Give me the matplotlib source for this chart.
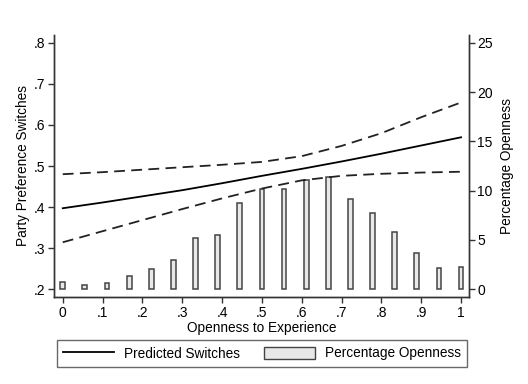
import matplotlib
matplotlib.use("Agg")
import matplotlib.pyplot as plt
import numpy as np
from matplotlib.lines import Line2D
from matplotlib.patches import Patch

plt.rcParams['font.family'] = ['Liberation Sans', 'DejaVu Sans']

# Data
x_line = [0.0, 0.1, 0.2, 0.3, 0.4, 0.5, 0.6, 0.7, 0.8, 0.9, 1.0]
pred = [0.397, 0.411, 0.426, 0.441, 0.458, 0.476, 0.493, 0.511, 0.530, 0.550, 0.570]
upper = [0.480, 0.485, 0.491, 0.497, 0.503, 0.510, 0.524, 0.549, 0.580, 0.619, 0.655]
lower = [0.314, 0.341, 0.368, 0.395, 0.421, 0.445, 0.465, 0.476, 0.481, 0.484, 0.486]

bar_x = [k / 18 for k in range(19)]
bar_pct = [0.7, 0.4, 0.65, 1.3, 2.0, 3.0, 5.15, 5.45, 8.7, 10.15, 10.2, 11.1, 11.35,
           9.15, 7.7, 5.75, 3.65, 2.1, 2.2]

left_ticks = [0.2, 0.3, 0.4, 0.5, 0.6, 0.7, 0.8]
left_labels = ['.2', '.3', '.4', '.5', '.6', '.7', '.8']
right_ticks = [0, 5, 10, 15, 20, 25]
x_ticks = [0, 0.1, 0.2, 0.3, 0.4, 0.5, 0.6, 0.7, 0.8, 0.9, 1.0]
x_labels = ['0', '.1', '.2', '.3', '.4', '.5', '.6', '.7', '.8', '.9', '1']

fig = plt.figure(figsize=(5.28, 3.84), dpi=100)
ax = fig.add_axes([54/528, 1-297/384, (469-54)/528, (297-35)/384])
ax2 = ax.twinx()

ax2.bar(bar_x, bar_pct, width=0.012, color='#e8e8e8', edgecolor='#444444', linewidth=1.1, zorder=2)

ax.set_zorder(ax2.get_zorder() + 1)
ax.patch.set_visible(False)
ax.plot(x_line, pred, color='black', lw=1.3)
ax.plot(x_line, upper, color='#222222', lw=1.3, dashes=(6, 3.5))
ax.plot(x_line, lower, color='#222222', lw=1.3, dashes=(6, 3.5))

ax.set_xlim(-0.022, 1.02)
ax.set_ylim(0.1805, 0.8195)
ax2.set_ylim(-0.81, 25.81)

ax.set_xticks(x_ticks)
ax.set_xticklabels(x_labels)
ax.set_yticks(left_ticks)
ax.set_yticklabels(left_labels)
ax2.set_yticks(right_ticks)

for a in (ax, ax2):
    a.spines['top'].set_visible(False)
    for s in a.spines.values():
        s.set_color('#333333')
        s.set_linewidth(1.0)
    a.tick_params(direction='out', length=4, width=1, color='#333333', labelsize=10, pad=2)
ax.tick_params(axis='x', pad=2.5)

ax.set_xlabel('Openness to Experience', fontsize=9.8, labelpad=1)
ax.set_ylabel('Party Preference Switches', fontsize=9.8, labelpad=3)
ax2.set_ylabel('Percentage Openness', fontsize=9.8, labelpad=5)

handles = [Line2D([], [], color='black', lw=1.3),
           Patch(facecolor='#e8e8e8', edgecolor='#444444', linewidth=1.0)]
leg = fig.legend(handles, ['Predicted Switches', 'Percentage Openness'],
                 loc='center', bbox_to_anchor=(262/528, 1-353.5/384), ncol=2,
                 fontsize=9.8, frameon=True, fancybox=False, handlelength=3.7,
                 handleheight=1.0, columnspacing=1.8, borderpad=0.45, handletextpad=0.75)
leg.get_frame().set_edgecolor('#444444')
leg.get_frame().set_linewidth(1.0)

fig.savefig('out.png', dpi=100)
